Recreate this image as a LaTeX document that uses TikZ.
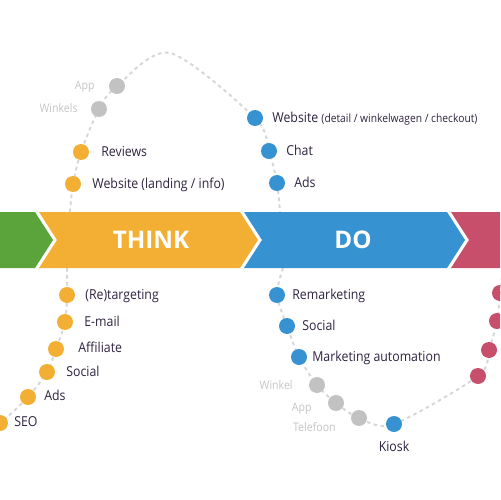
\documentclass[tikz,border=0pt]{standalone}
\usepackage{fontspec}
\setmainfont{Open Sans}
\newfontfamily\lblfont[FakeStretch=0.9]{Open Sans}
\usetikzlibrary{backgrounds}
\definecolor{seegreen}{HTML}{5BA33B}
\definecolor{thinkorange}{HTML}{F3AF33}
\definecolor{doblue}{HTML}{3692D1}
\definecolor{carered}{HTML}{C84F6B}
\definecolor{dotgrey}{HTML}{C2C2C2}
\definecolor{trailgrey}{HTML}{D6D6D6}
\definecolor{labelink}{HTML}{2F2340}
\definecolor{labelgrey}{HTML}{C4C4C4}

\begin{document}
\begin{tikzpicture}[
    x=0.02cm, y=-0.02cm,
    dot/.style={circle, inner sep=0pt, minimum size=0.32cm, fill=#1},
    lbl/.style={anchor=west, inner sep=0pt, text height=5.6pt, text depth=0pt, text=labelink, font=\lblfont\fontsize{7.8}{9}\selectfont},
    glbl/.style={anchor=east, inner sep=0pt, text height=4.8pt, text depth=0pt, text=labelgrey, font=\lblfont\fontsize{6.7}{8}\selectfont},
    trail/.style={draw=trailgrey, line width=1.1pt, dash pattern=on 2pt off 2pt},
    stage/.style={text=white, font=\bfseries\fontsize{13.8}{16}\selectfont}
]
\useasboundingbox (0,0) rectangle (500,500);
\clip (0,0) rectangle (500,500);

\fill[seegreen] (-10,212) -- (35,212) -- (53,240) -- (35,268) -- (-10,268) -- cycle;
\fill[thinkorange] (39,212) -- (240,212) -- (258,240) -- (240,268) -- (39,268) -- (57,240) -- cycle;
\fill[doblue] (244,212) -- (447,212) -- (465,240) -- (447,268) -- (244,268) -- (262,240) -- cycle;
\fill[carered] (451,212) -- (510,212) -- (510,268) -- (451,268) -- (469,240) -- cycle;
\node[stage] (think) at (151,240) {THINK};
\node[stage] (do) at (353,240) {DO};

\node[dot=dotgrey] (app1) at (117,86) {};
\node[dot=dotgrey] (wnk1) at (99,109) {};
\node[dot=thinkorange] (rev) at (81,152) {};
\node[dot=thinkorange] (webT) at (73,184) {};
\node[dot=doblue] (webD) at (255,118) {};
\node[dot=doblue] (chat) at (269,151) {};
\node[dot=doblue] (adsD) at (277,183) {};

\node[glbl] (app1T) at (95,85) {App};
\node[glbl] (wnk1T) at (78,108) {Winkels};
\node[lbl] (revT) at (101,152) {Reviews};
\node[lbl] (webTT) at (92,184) {Website (landing / info)};
\node[lbl] (webDT) at (272,118) {Website {\fontsize{6.5}{8}\selectfont(detail / winkelwagen / checkout)}};
\node[lbl] (chatT) at (286,151) {Chat};
\node[lbl] (adsDT) at (294,183) {Ads};

\node[dot=thinkorange] (retg) at (67,295) {};
\node[dot=thinkorange] (mail) at (65,322) {};
\node[dot=thinkorange] (affl) at (56,349) {};
\node[dot=thinkorange] (socT) at (47,372) {};
\node[dot=thinkorange] (adsT) at (28,397) {};
\node[dot=thinkorange] (seo) at (0,423) {};

\node[lbl] (retgT) at (85,295) {(Re)targeting};
\node[lbl] (mailT) at (84,322) {E-mail};
\node[lbl] (afflT) at (78,348) {Affiliate};
\node[lbl] (socTT) at (66,372) {Social};
\node[lbl] (adsTT) at (44,396) {Ads};
\node[lbl] (seoT) at (14,422) {SEO};

\node[dot=doblue] (remk) at (277,295) {};
\node[dot=doblue] (socD) at (287,326) {};
\node[dot=doblue] (mauto) at (299,357) {};
\node[dot=dotgrey] (wnk2) at (317,385) {};
\node[dot=dotgrey] (app2) at (336,403) {};
\node[dot=dotgrey] (tel) at (359,418) {};
\node[dot=doblue] (kiosk) at (394,424) {};
\node[dot=carered] (red1) at (478,376) {};
\node[dot=carered] (red2) at (489,350) {};
\node[dot=carered] (red3) at (497,321) {};
\node[dot=carered] (red4) at (500,293) {};

\node[lbl] (remkT) at (292,295) {Remarketing};
\node[lbl] (socDT) at (302,326) {Social};
\node[lbl] (mautoT) at (312,357) {Marketing automation};
\node[glbl] (wnk2T) at (293,385) {Winkel};
\node[glbl] (app2T) at (312,407) {App};
\node[glbl] (telT) at (336,427) {Telefoon};
\node[lbl, anchor=north] (kioskT) at (394,441) {Kiosk};

\coordinate (t0) at (70,212);
\coordinate (peak) at (170,53);
\coordinate (t1) at (280,212);
\coordinate (b0) at (67,268);
\coordinate (bL) at (-20,433);
\coordinate (b1) at (283,268);
\coordinate (bR) at (503,268);

\begin{scope}[on background layer]
\draw[trail] plot[smooth] coordinates {(t0) (webT) (rev) (wnk1) (app1) (peak) (webD) (chat) (adsD) (t1)};
\draw[trail] plot[smooth] coordinates {(b0) (retg) (mail) (affl) (socT) (adsT) (seo) (bL)};
\draw[trail] plot[smooth] coordinates {(b1) (remk) (socD) (mauto) (wnk2) (app2) (tel) (kiosk) (red1) (red2) (red3) (red4) (bR)};
\end{scope}
\end{tikzpicture}
\end{document}
